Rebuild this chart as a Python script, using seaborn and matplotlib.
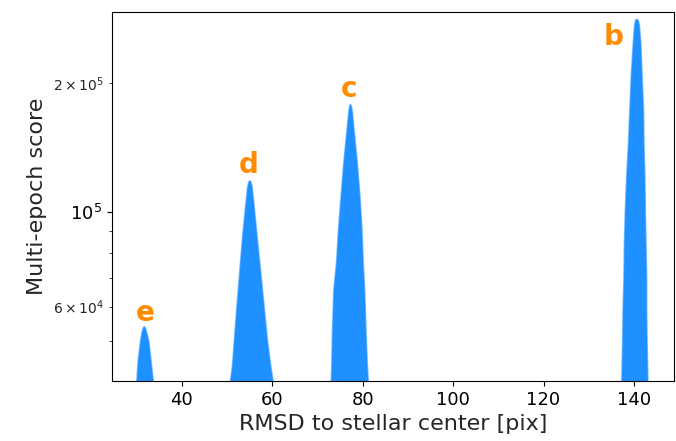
import numpy as np
import pandas as pd
import matplotlib
matplotlib.use("Agg")
import matplotlib.pyplot as plt
import seaborn as sns

# peak envelopes: score levels and left/right RMSD edges
# (levels go from the bottom of the plot up to just below the tip)
peak_names = ["e", "d", "c", "b"]

e_levels = [3.90e4, 4.46e4, 4.97e4, 5.20e4, 5.32e4]
e_left = [29.98, 30.33, 30.86, 31.15, 31.40]
e_right = [33.80, 33.20, 32.70, 32.25, 32.00]
e_tip = (31.66, 5.39e4)

d_levels = [3.90e4, 4.38e4, 5.06e4, 6.07e4, 7.27e4, 8.70e4, 1.043e5, 1.14e5, 1.17e5]
d_left = [50.62, 51.22, 51.66, 52.23, 52.83, 53.43, 54.16, 54.55, 54.78]
d_right = [60.35, 59.62, 58.87, 58.14, 57.41, 56.66, 55.93, 55.55, 55.32]
d_tip = (55.04, 1.183e5)

c_levels = [3.90e4, 4.42e4, 5.30e4, 6.58e4, 7.60e4, 9.11e4, 1.090e5, 1.306e5, 1.565e5, 1.72e5, 1.765e5]
c_left = [73.03, 73.19, 73.34, 73.63, 74.23, 74.67, 75.24, 75.84, 76.57, 76.95, 77.12]
c_right = [81.30, 81.00, 80.71, 80.42, 80.11, 79.82, 79.38, 78.78, 78.05, 77.68, 77.50]
c_tip = (77.30, 1.782e5)

b_levels = [3.90e4, 4.89e4, 5.85e4, 7.01e4, 8.40e4, 1.005e5, 1.204e5, 1.443e5, 1.728e5, 2.07e5, 2.48e5, 2.73e5, 2.80e5]
b_left = [137.3, 137.5, 137.6, 137.8, 137.9, 138.1, 138.4, 138.8, 139.1, 139.4, 139.85, 140.15, 140.35]
b_right = [143.1, 142.9, 142.8, 142.8, 142.65, 142.5, 142.4, 142.2, 142.1, 141.8, 141.5, 141.2, 140.95]
b_tip = (140.6, 2.824e5)

# label positions (x, baseline score)
label_x = [31.8, 54.8, 77.0, 135.4]
label_y = [5.54e4, 1.235e5, 1.854e5, 2.457e5]

peaks = {
    "e": (e_levels, e_left, e_right, e_tip),
    "d": (d_levels, d_left, d_right, d_tip),
    "c": (c_levels, c_left, c_right, c_tip),
    "b": (b_levels, b_left, b_right, b_tip),
}

rows = []
for name in peak_names:
    lev, lo, hi, tip = peaks[name]
    xs = list(lo) + [tip[0]] + list(hi[::-1])
    ys = list(lev) + [tip[1]] + list(lev[::-1])
    for i, (x, y) in enumerate(zip(xs, ys)):
        rows.append({"peak": name, "order": i, "rmsd": x, "score": y})
df = pd.DataFrame(rows)

sns.set_style("ticks")
plt.rcParams["font.family"] = ["DejaVu Sans"]

fig = plt.figure(figsize=(6.76, 4.41), dpi=100)
ax = fig.add_axes([0.165, 0.136, 0.832, 0.836])

blue = "#1e90ff"
for name in peak_names:
    sub = df[df.peak == name]
    ax.fill(sub.rmsd, sub.score, color=blue, lw=0)
sns.lineplot(data=df, x="rmsd", y="score", units="peak", estimator=None,
             sort=False, color=blue, lw=1.2, alpha=0.6, ax=ax, legend=False)

for name, x, y in zip(peak_names, label_x, label_y):
    ax.text(x, y, name, color="#ff8c00", fontsize=20, fontweight="bold",
            ha="center", va="baseline")

ax.set_yscale("log")
ax.set_xlim(24.45, 148.85)
ax.set_ylim(4.02e4, 2.93e5)
ax.set_xlabel("RMSD to stellar center [pix]", fontsize=16)
ax.set_ylabel("Multi-epoch score", fontsize=16)
ax.tick_params(which="major", labelsize=13, colors="black")
ax.tick_params(which="minor", labelsize=10)
for s in ax.spines.values():
    s.set_color("black")

fig.savefig("out.png", dpi=100)
